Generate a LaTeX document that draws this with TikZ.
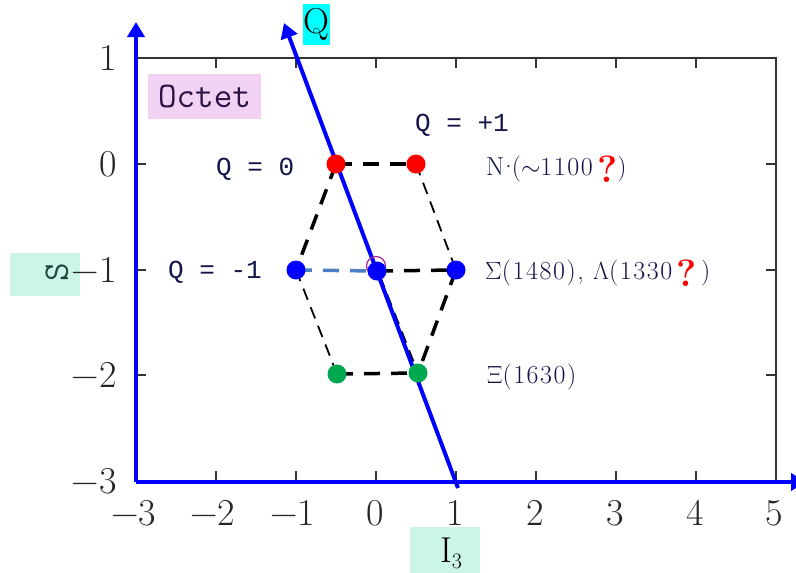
\documentclass[tikz,border=0pt]{standalone}
\usepackage{fontspec}
\usetikzlibrary{arrows.meta}
\newfontfamily\qfont{Liberation Mono}
\newfontfamily\plfont{Latin Modern Roman}[LetterSpace=6]
\definecolor{axblue}{HTML}{0000FF}
\definecolor{dotred}{HTML}{FF0000}
\definecolor{dotblue}{HTML}{0000FF}
\definecolor{dotgreen}{HTML}{00A84F}
\definecolor{steel}{HTML}{4A7FC4}
\definecolor{navy}{HTML}{14144A}
\definecolor{lavender}{HTML}{F2D2F2}
\definecolor{mint}{HTML}{CCF5EA}
\definecolor{cyanbox}{HTML}{00FFFF}
\definecolor{octetink}{HTML}{2B1245}
\definecolor{slink}{HTML}{1F4A40}
\definecolor{lampurple}{HTML}{A0309A}
\tikzset{
  frame/.style={draw=black!80, line width=1.6pt},
  tickmark/.style={draw=black!80, line width=1.6pt},
  ticklab/.style={inner sep=0pt, text=black!85, font=\fontsize{38}{40}\selectfont},
  bluaxis/.style={draw=axblue, line width=4pt, -{Triangle[length=15pt,width=17pt]}},
  thickdash/.style={draw=black, line width=3.5pt, dash pattern=on 16pt off 11pt},
  thindash/.style={draw=black, line width=1.8pt, dash pattern=on 12pt off 8pt},
  dot/.style={circle, inner sep=0pt, minimum size=19pt},
  qlab/.style={text=navy, inner sep=0pt, anchor=west, font=\qfont\fontsize{26}{28}\selectfont},
  plab/.style={text=navy, inner sep=0pt, anchor=west, font=\plfont\fontsize{26}{28}\selectfont}
}
\newcommand{\redq}{\raisebox{-7pt}{\color{dotred}\bfseries\fontsize{38}{38}\selectfont ?}}
\begin{document}
\begin{tikzpicture}[x=1pt,y=-1pt]
\useasboundingbox (0,0) rectangle (796,573);
\clip (0,0) rectangle (796,573);
% frame and ticks
\draw[frame] (136,58) rectangle (776,481);
\foreach \x in {216,296,376,456,536,616,696} {
  \draw[tickmark] (\x,58) -- ++(0,10);
  \draw[tickmark] (\x,481) -- ++(0,-10);
}
\foreach \y in {164,270,375} {
  \draw[tickmark] (136,\y) -- ++(10,0);
  \draw[tickmark] (776,\y) -- ++(-10,0);
}
% boxes for labels
\node[fill=mint, minimum width=70pt, minimum height=43pt, inner sep=0pt] (sbox) at (45,274.5) {};
\node[rotate=90, text=slink, inner sep=0pt, font=\ttfamily\fontsize{36}{36}\selectfont] (slab) at (57,272) {S};
% tick labels
\foreach \y/\t in {58/1,164/0,270/−1,375/−2,481/−3}
  \node[ticklab, anchor=east] at (117,\y) {\t};
\foreach \x/\t in {134/−3,213/−2,293/−1,375/0,455/1,535/2,615/3,695/4,774/5}
  \node[ticklab, anchor=north] at (\x,500) {\t};
% octet
\node[fill=lavender, minimum width=113pt, minimum height=45pt, inner sep=0pt, text=octetink, font=\ttfamily\fontsize{36}{36}\selectfont] (octet) at (204.5,96.5) {Octet};
% Q axis label
\node[fill=cyanbox, minimum width=27pt, minimum height=41pt, inner sep=0pt, font=\fontsize{36}{36}\selectfont] (qlabel) at (316.5,24.5) {Q};
% I3 label
\node[fill=mint, minimum width=70pt, minimum height=46pt, inner sep=0pt] (ibox) at (445,550) {};
\node[inner sep=0pt, font=\fontsize{36}{36}\selectfont] (ilab) at (451,553) {I\raisebox{-6pt}{\fontsize{22}{22}\selectfont 3}};
% points
\coordinate (r1) at (336,164);
\coordinate (r2) at (416,164);
\coordinate (b1) at (296,270);
\coordinate (b2) at (377,271);
\coordinate (b3) at (456,270);
\coordinate (g1) at (337,374);
\coordinate (g2) at (418,373);
% dashed edges
\draw[thickdash] (r1) -- (r2);
\draw[thickdash] (r1) -- (b1);
\draw[thindash] (r2) -- (b3);
\draw[thindash] (b1) -- (g1);
\draw[thickdash] (b3) -- (g2);
\draw[thickdash] (g1) -- (g2);
\draw[thickdash, draw=steel] (b1) -- (b2);
\draw[thickdash] (b2) -- (b3);
\draw[thindash] (r1) -- (g2);
% blue axes
\coordinate (origin) at (136,482);
\coordinate (ytip) at (136,22);
\coordinate (xtip) at (806,482);
\coordinate (qbot) at (458,488);
\coordinate (qtip) at (284,23);
\draw[bluaxis] (origin) -- (ytip);
\draw[bluaxis] (origin) -- (xtip);
\draw[bluaxis] (qbot) -- (qtip);
% dots
\draw[draw=lampurple, line width=1.3pt] (376,266) circle (9.5pt);
\node[dot, fill=dotred] (nr1) at (r1) {};
\node[dot, fill=dotred] (nr2) at (r2) {};
\node[dot, fill=dotblue] (nb1) at (b1) {};
\node[dot, fill=dotblue] (nb2) at (b2) {};
\node[dot, fill=dotblue] (nb3) at (b3) {};
\node[dot, fill=dotgreen] (ng1) at (g1) {};
\node[dot, fill=dotgreen] (ng2) at (g2) {};
% Q labels
\node[qlab] (q0) at (216,169) {Q = 0};
\node[qlab] (qp) at (415,125) {Q = +1};
\node[qlab] (qm) at (168,272) {Q = -1};
% particle labels
\node[plab] (nlab) at (486,169) {N\kern-5pt·\kern-6pt($\sim$1100\,\redq)};
\node[plab] (slab2) at (485,273) {$\Sigma$(1480), $\Lambda$(1330\,\redq\,)};
\node[plab] (xlab) at (487,377) {$\Xi$(1630)};
\end{tikzpicture}
\end{document}
